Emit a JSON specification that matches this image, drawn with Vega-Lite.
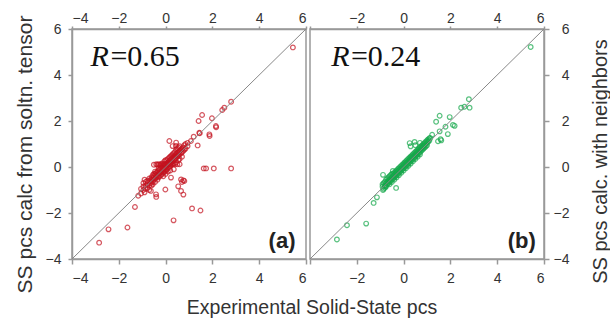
{
  "$schema": "https://vega.github.io/schema/vega-lite/v6.json",
  "padding": {"left": 13, "top": 10, "right": 0, "bottom": 0},
  "background": "white",
  "config": {
    "view": {"stroke": "#999", "strokeWidth": 1.5},
    "font": "Liberation Sans",
    "axis": {
      "grid": false,
      "domainColor": "#999",
      "domainWidth": 1.5,
      "tickColor": "#999",
      "tickWidth": 1.5,
      "labelFont": "Liberation Sans",
      "labelFontSize": 14,
      "labelColor": "#333",
      "titleFont": "Liberation Sans",
      "titleFontSize": 21,
      "titleFontWeight": "normal",
      "titleColor": "#333"
    }
  },
  "title": {
    "text": "Experimental Solid-State pcs",
    "orient": "bottom",
    "anchor": "middle",
    "font": "Liberation Sans",
    "fontSize": 19.5,
    "fontWeight": "normal",
    "color": "#333",
    "offset": 5
  },
  "datasets": {
    "a": [
      {"x":5.44,"y":5.2},{"x":2.8,"y":2.84},{"x":2.51,"y":2.58},{"x":2.42,"y":2.48},{"x":1.56,"y":2.26},{"x":1.98,"y":2.12},{"x":1.41,"y":2.0},{"x":2.16,"y":1.73},{"x":1.46,"y":1.47},{"x":1.88,"y":1.35},{"x":1.2,"y":1.32},{"x":1.37,"y":0.94},{"x":0.44,"y":0.92},{"x":1.63,"y":-0.06},{"x":1.73,"y":-0.06},{"x":2.06,"y":-0.06},{"x":2.8,"y":-0.06},{"x":0.76,"y":-0.58},{"x":0.7,"y":-0.65},{"x":0.54,"y":-0.84},{"x":0.76,"y":-1.2},{"x":-0.01,"y":-0.98},{"x":-0.4,"y":-1.3},{"x":1.13,"y":-1.8},{"x":1.49,"y":-1.89},{"x":0.34,"y":-2.32},{"x":-1.17,"y":-1.25},{"x":-1.31,"y":-1.74},{"x":-1.63,"y":-2.63},{"x":-2.44,"y":-2.71},{"x":-2.84,"y":-3.29},{"x":1.08,"y":1.13},{"x":0.16,"y":1.13},{"x":0.23,"y":-0.46},{"x":0.94,"y":0.91},{"x":0.94,"y":1.05},{"x":1.44,"y":1.49},{"x":1.87,"y":1.42},{"x":2.15,"y":1.78},
      {"x":-1.05,"y":-0.95},{"x":-1.05,"y":-1.15},{"x":-0.95,"y":-0.85},{"x":-0.95,"y":-1.0},{"x":-0.95,"y":-0.7},{"x":-0.9,"y":-0.55},{"x":-0.9,"y":-1.1},{"x":-0.85,"y":-0.8},{"x":-0.85,"y":-0.95},{"x":-0.85,"y":-0.65},{"x":-0.78,"y":-0.75},{"x":-0.78,"y":-0.6},{"x":-0.78,"y":-0.9},{"x":-0.7,"y":-0.62},{"x":-0.7,"y":-0.8},{"x":-0.7,"y":-0.5},{"x":-0.7,"y":-1.0},{"x":-0.63,"y":-1.04},{"x":-0.63,"y":-0.55},{"x":-0.63,"y":-0.7},{"x":-0.6,"y":-0.45},{"x":-0.6,"y":-0.6},{"x":-0.6,"y":-0.8},{"x":-0.55,"y":-0.5},{"x":-0.55,"y":-0.35},{"x":-0.55,"y":-0.65},{"x":-0.55,"y":-0.75},{"x":-0.5,"y":-0.4},{"x":-0.5,"y":-0.55},{"x":-0.5,"y":0.1},{"x":-0.5,"y":-0.3},{"x":-0.45,"y":-0.3},{"x":-0.45,"y":-0.5},{"x":-0.45,"y":-0.65},{"x":-0.45,"y":-0.2},{"x":-0.41,"y":-1.19},{"x":-0.41,"y":-0.35},{"x":-0.4,"y":-0.25},{"x":-0.4,"y":-0.45},{"x":-0.4,"y":0.12},{"x":-0.35,"y":-0.2},{"x":-0.35,"y":-0.4},{"x":-0.35,"y":-0.55},{"x":-0.35,"y":0.1},{"x":-0.3,"y":-0.15},{"x":-0.3,"y":-0.3},{"x":-0.3,"y":-0.45},{"x":-0.3,"y":0.12},{"x":-0.3,"y":-0.05},{"x":-0.25,"y":-0.1},{"x":-0.25,"y":-0.25},{"x":-0.25,"y":-0.4},{"x":-0.25,"y":0.1},{"x":-0.2,"y":-0.05},{"x":-0.2,"y":-0.2},{"x":-0.2,"y":-0.35},{"x":-0.2,"y":0.12},{"x":-0.2,"y":0.05},{"x":-0.15,"y":0.0},{"x":-0.15,"y":-0.15},{"x":-0.15,"y":-0.3},{"x":-0.15,"y":0.15},{"x":-0.1,"y":0.05},{"x":-0.1,"y":-0.1},{"x":-0.1,"y":-0.25},{"x":-0.1,"y":0.12},{"x":-0.1,"y":-0.4},{"x":-0.05,"y":0.1},{"x":-0.05,"y":-0.05},{"x":-0.05,"y":-0.2},{"x":-0.05,"y":0.25},{"x":0.0,"y":0.12},{"x":0.0,"y":0.0},{"x":0.0,"y":-0.15},{"x":0.0,"y":0.3},{"x":0.0,"y":-0.3},{"x":0.05,"y":0.15},{"x":0.05,"y":0.05},{"x":0.05,"y":-0.1},{"x":0.05,"y":0.3},{"x":0.1,"y":0.2},{"x":0.1,"y":0.1},{"x":0.1,"y":-0.05},{"x":0.1,"y":0.35},{"x":0.1,"y":-0.2},{"x":0.15,"y":0.25},{"x":0.15,"y":0.12},{"x":0.15,"y":0.0},{"x":0.15,"y":0.4},{"x":0.2,"y":0.3},{"x":0.2,"y":0.15},{"x":0.2,"y":0.05},{"x":0.2,"y":0.45},{"x":0.2,"y":-0.15},{"x":0.25,"y":0.35},{"x":0.25,"y":0.2},{"x":0.25,"y":0.1},{"x":0.25,"y":0.5},{"x":0.3,"y":0.4},{"x":0.3,"y":0.25},{"x":0.3,"y":0.12},{"x":0.3,"y":0.55},{"x":0.3,"y":0.91},{"x":0.35,"y":0.45},{"x":0.35,"y":0.3},{"x":0.35,"y":0.15},{"x":0.35,"y":0.6},{"x":0.35,"y":-0.1},{"x":0.4,"y":0.5},{"x":0.4,"y":0.35},{"x":0.4,"y":0.12},{"x":0.4,"y":0.65},{"x":0.45,"y":0.55},{"x":0.45,"y":0.4},{"x":0.45,"y":0.2},{"x":0.45,"y":0.75},{"x":0.45,"y":1.06},{"x":0.5,"y":0.6},{"x":0.5,"y":0.45},{"x":0.5,"y":0.12},{"x":0.5,"y":0.8},{"x":0.55,"y":0.65},{"x":0.55,"y":0.5},{"x":0.55,"y":0.3},{"x":0.55,"y":0.85},{"x":0.6,"y":0.7},{"x":0.6,"y":0.55},{"x":0.6,"y":0.12},{"x":0.6,"y":0.9},{"x":0.6,"y":0.35},{"x":0.66,"y":0.75},{"x":0.66,"y":0.6},{"x":0.66,"y":-0.54},{"x":0.66,"y":-1.04},{"x":0.7,"y":0.8},{"x":0.7,"y":0.65},{"x":0.7,"y":0.45},{"x":0.75,"y":0.85},{"x":0.75,"y":0.7},{"x":0.8,"y":0.95},{"x":0.8,"y":0.75},{"x":0.8,"y":-0.61},{"x":0.85,"y":1.0},{"x":0.85,"y":0.8}
    ],
    "b": [
      {"x":5.43,"y":5.22},{"x":2.79,"y":2.95},{"x":2.46,"y":2.58},{"x":2.6,"y":2.62},{"x":2.82,"y":2.58},{"x":1.54,"y":2.23},{"x":1.97,"y":2.17},{"x":1.39,"y":1.97},{"x":2.11,"y":1.83},{"x":2.18,"y":1.79},{"x":1.79,"y":1.75},{"x":1.89,"y":1.43},{"x":1.58,"y":1.21},{"x":1.47,"y":1.12},{"x":1.61,"y":1.16},{"x":1.22,"y":1.4},{"x":1.14,"y":1.26},{"x":0.26,"y":1.04},{"x":0.47,"y":1.09},{"x":-0.88,"y":-0.34},{"x":-0.46,"y":-0.17},{"x":-0.32,"y":-0.91},{"x":-0.88,"y":-1.0},{"x":-0.77,"y":-0.82},{"x":-1.14,"y":-1.32},{"x":-1.28,"y":-1.56},{"x":-1.6,"y":-2.46},{"x":-2.42,"y":-2.53},{"x":-2.85,"y":-3.15},{"x":1.54,"y":1.55},
      {"x":-0.9,"y":-0.85},{"x":-0.9,"y":-0.75},{"x":-0.85,"y":-0.95},{"x":-0.85,"y":-0.7},{"x":-0.8,"y":-0.8},{"x":-0.8,"y":-0.65},{"x":-0.8,"y":-0.9},{"x":-0.75,"y":-0.7},{"x":-0.75,"y":-0.85},{"x":-0.75,"y":-0.55},{"x":-0.7,"y":-0.65},{"x":-0.7,"y":-0.75},{"x":-0.7,"y":-0.5},{"x":-0.65,"y":-0.6},{"x":-0.65,"y":-0.7},{"x":-0.65,"y":-0.45},{"x":-0.6,"y":-0.55},{"x":-0.6,"y":-0.65},{"x":-0.6,"y":-0.4},{"x":-0.6,"y":-0.75},{"x":-0.55,"y":-0.5},{"x":-0.55,"y":-0.6},{"x":-0.55,"y":-0.35},{"x":-0.5,"y":-0.45},{"x":-0.5,"y":-0.55},{"x":-0.5,"y":-0.3},{"x":-0.5,"y":-0.65},{"x":-0.45,"y":-0.4},{"x":-0.45,"y":-0.5},{"x":-0.45,"y":-0.3},{"x":-0.4,"y":-0.35},{"x":-0.4,"y":-0.45},{"x":-0.4,"y":-0.25},{"x":-0.4,"y":-0.55},{"x":-0.35,"y":-0.3},{"x":-0.35,"y":-0.4},{"x":-0.35,"y":-0.2},{"x":-0.3,"y":-0.25},{"x":-0.3,"y":-0.35},{"x":-0.3,"y":-0.15},{"x":-0.3,"y":-0.45},{"x":-0.25,"y":-0.2},{"x":-0.25,"y":-0.3},{"x":-0.25,"y":-0.1},{"x":-0.2,"y":-0.15},{"x":-0.2,"y":-0.25},{"x":-0.2,"y":-0.05},{"x":-0.2,"y":-0.35},{"x":-0.15,"y":-0.1},{"x":-0.15,"y":-0.2},{"x":-0.15,"y":0.0},{"x":-0.1,"y":-0.05},{"x":-0.1,"y":-0.15},{"x":-0.1,"y":0.05},{"x":-0.1,"y":-0.25},{"x":-0.05,"y":0.0},{"x":-0.05,"y":-0.1},{"x":-0.05,"y":0.1},{"x":0.0,"y":0.05},{"x":0.0,"y":-0.05},{"x":0.0,"y":0.15},{"x":0.0,"y":-0.15},{"x":0.05,"y":0.1},{"x":0.05,"y":0.0},{"x":0.05,"y":0.2},{"x":0.1,"y":0.15},{"x":0.1,"y":0.05},{"x":0.1,"y":0.25},{"x":0.1,"y":-0.05},{"x":0.15,"y":0.2},{"x":0.15,"y":0.1},{"x":0.15,"y":0.3},{"x":0.2,"y":0.25},{"x":0.2,"y":0.15},{"x":0.2,"y":0.35},{"x":0.2,"y":0.05},{"x":0.25,"y":0.3},{"x":0.25,"y":0.2},{"x":0.25,"y":0.4},{"x":0.3,"y":0.35},{"x":0.3,"y":0.25},{"x":0.3,"y":0.45},{"x":0.3,"y":0.15},{"x":0.35,"y":0.4},{"x":0.35,"y":0.3},{"x":0.35,"y":0.5},{"x":0.4,"y":0.45},{"x":0.4,"y":0.35},{"x":0.4,"y":0.55},{"x":0.4,"y":0.25},{"x":0.45,"y":0.5},{"x":0.45,"y":0.4},{"x":0.45,"y":0.6},{"x":0.5,"y":0.55},{"x":0.5,"y":0.45},{"x":0.5,"y":0.65},{"x":0.5,"y":0.35},{"x":0.55,"y":0.6},{"x":0.55,"y":0.5},{"x":0.55,"y":0.7},{"x":0.6,"y":0.65},{"x":0.6,"y":0.55},{"x":0.6,"y":0.75},{"x":0.6,"y":0.45},{"x":0.65,"y":0.7},{"x":0.65,"y":0.6},{"x":0.65,"y":0.8},{"x":0.7,"y":0.75},{"x":0.7,"y":0.65},{"x":0.7,"y":0.85},{"x":0.7,"y":0.55},{"x":0.75,"y":0.8},{"x":0.75,"y":0.7},{"x":0.75,"y":0.9},{"x":0.8,"y":0.85},{"x":0.8,"y":0.75},{"x":0.8,"y":0.95},{"x":0.85,"y":0.9},{"x":0.85,"y":0.8},{"x":0.85,"y":1.0},{"x":0.9,"y":0.95},{"x":0.9,"y":0.85},{"x":0.9,"y":1.05},{"x":0.95,"y":1.0},{"x":0.95,"y":0.9},{"x":0.95,"y":1.1},{"x":1.0,"y":1.05},{"x":1.0,"y":0.95},{"x":1.0,"y":1.15},{"x":1.05,"y":1.1},{"x":1.05,"y":1.2},{"x":1.1,"y":1.15},{"x":1.1,"y":1.25},{"x":0.3,"y":0.9},{"x":0.5,"y":0.95},{"x":0.7,"y":1.05}
    ]
  },
  "spacing": 0,
  "hconcat": [
    {
      "width": 234,
      "height": 230,
      "resolve": {"axis": {"x": "independent", "y": "independent"}},
      "layer": [
        {
          "data": {"name": "a"},
          "mark": {"type": "point", "shape": "circle", "filled": false, "color": "#c4121f", "size": 22, "strokeWidth": 1.2},
          "encoding": {
            "x": {"field": "x", "type": "quantitative", "scale": {"domain": [-4, 6], "nice": false, "zero": false},
                  "axis": {"orient": "bottom", "values": [-4, -2, 0, 2, 4, 6], "title": null, "tickSize": 5, "labelPadding": 7}},
            "y": {"field": "y", "type": "quantitative", "scale": {"domain": [-4, 6], "nice": false, "zero": false},
                  "axis": {"orient": "left", "values": [-4, -2, 0, 2, 4, 6], "title": "SS pcs calc from soltn. tensor", "tickSize": 4, "labelPadding": 7, "titlePadding": 10, "titleY": 125}}
          }
        },
        {
          "data": {"values": [{}]},
          "mark": {"type": "rule", "color": "#888", "strokeWidth": 1},
          "encoding": {
            "x": {"datum": -4, "type": "quantitative",
                  "axis": {"orient": "top", "values": [-4, -2, 0, 2, 4, 6], "title": null, "tickSize": 3, "labelPadding": 1}},
            "y": {"datum": -4, "type": "quantitative", "axis": null},
            "x2": {"datum": 6},
            "y2": {"datum": 6}
          }
        },
        {
          "data": {"values": [{}]},
          "mark": {"type": "text", "font": "Liberation Serif", "fontStyle": "italic", "fontSize": 30, "align": "left", "baseline": "alphabetic", "color": "#111"},
          "encoding": {
            "x": {"datum": -3.21, "type": "quantitative", "axis": null},
            "y": {"datum": 4.39, "type": "quantitative", "axis": null},
            "text": {"value": "R"}
          }
        },
        {
          "data": {"values": [{}]},
          "mark": {"type": "text", "font": "Liberation Serif", "fontSize": 30, "align": "left", "baseline": "alphabetic", "color": "#111"},
          "encoding": {
            "x": {"datum": -2.36, "type": "quantitative", "axis": null},
            "y": {"datum": 4.39, "type": "quantitative", "axis": null},
            "text": {"value": "=0.65"}
          }
        },
        {
          "data": {"values": [{}]},
          "mark": {"type": "text", "font": "Liberation Sans", "fontWeight": "bold", "fontSize": 22, "align": "right", "baseline": "alphabetic", "color": "#222"},
          "encoding": {
            "x": {"datum": 5.55, "type": "quantitative", "axis": null},
            "y": {"datum": -3.5, "type": "quantitative", "axis": null},
            "text": {"value": "(a)"}
          }
        }
      ]
    },
    {
      "width": 234,
      "height": 230,
      "resolve": {"axis": {"x": "independent", "y": "independent"}},
      "layer": [
        {
          "data": {"name": "b"},
          "mark": {"type": "point", "shape": "circle", "filled": false, "color": "#14a84a", "size": 22, "strokeWidth": 1.2},
          "encoding": {
            "x": {"field": "x", "type": "quantitative", "scale": {"domain": [-4, 6], "nice": false, "zero": false},
                  "axis": {"orient": "bottom", "values": [-4, -2, 0, 2, 4, 6], "labelExpr": "datum.value == -4 ? '' : datum.label", "title": null, "tickSize": 5, "labelPadding": 7}},
            "y": {"field": "y", "type": "quantitative", "scale": {"domain": [-4, 6], "nice": false, "zero": false},
                  "axis": {"orient": "right", "values": [-4, -2, 0, 2, 4, 6], "title": "SS pcs calc. with neighbors", "titleFontSize": 20, "tickSize": 5, "labelPadding": 20, "labelAlign": "right", "titlePadding": 21, "titleAngle": 270, "titleBaseline": "top", "titleY": 132}}
          }
        },
        {
          "data": {"values": [{}]},
          "mark": {"type": "rule", "color": "#888", "strokeWidth": 1},
          "encoding": {
            "x": {"datum": -4, "type": "quantitative",
                  "axis": {"orient": "top", "values": [-4, -2, 0, 2, 4, 6], "labelExpr": "datum.value == -4 ? '' : datum.label", "title": null, "tickSize": 3, "labelPadding": 1}},
            "y": {"datum": -4, "type": "quantitative", "axis": null},
            "x2": {"datum": 6},
            "y2": {"datum": 6}
          }
        },
        {
          "data": {"values": [{}]},
          "mark": {"type": "text", "font": "Liberation Serif", "fontStyle": "italic", "fontSize": 30, "align": "left", "baseline": "alphabetic", "color": "#111"},
          "encoding": {
            "x": {"datum": -3.09, "type": "quantitative", "axis": null},
            "y": {"datum": 4.39, "type": "quantitative", "axis": null},
            "text": {"value": "R"}
          }
        },
        {
          "data": {"values": [{}]},
          "mark": {"type": "text", "font": "Liberation Serif", "fontSize": 30, "align": "left", "baseline": "alphabetic", "color": "#111"},
          "encoding": {
            "x": {"datum": -2.25, "type": "quantitative", "axis": null},
            "y": {"datum": 4.39, "type": "quantitative", "axis": null},
            "text": {"value": "=0.24"}
          }
        },
        {
          "data": {"values": [{}]},
          "mark": {"type": "text", "font": "Liberation Sans", "fontWeight": "bold", "fontSize": 22, "align": "right", "baseline": "alphabetic", "color": "#222"},
          "encoding": {
            "x": {"datum": 5.65, "type": "quantitative", "axis": null},
            "y": {"datum": -3.5, "type": "quantitative", "axis": null},
            "text": {"value": "(b)"}
          }
        }
      ]
    }
  ]
}
